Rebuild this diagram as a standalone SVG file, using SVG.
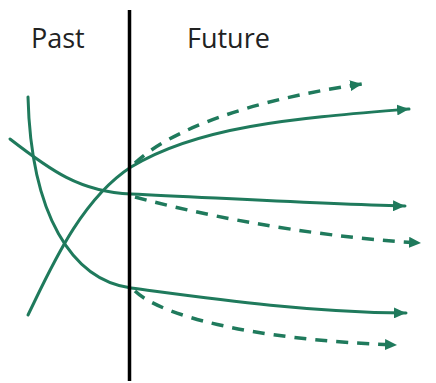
<svg xmlns="http://www.w3.org/2000/svg" width="436" height="383" viewBox="0 0 436 383">
  <style>
    .lbl { font-family: "Open Sans", "Liberation Sans", sans-serif; font-size: 27px; fill: #222; }
    .c { fill: none; stroke: #1f7a5c; stroke-width: 3; stroke-linecap: round; }
    .solid { marker-end: url(#arrow); }
    .dash { stroke-width: 3.5; stroke-dasharray: 12 9; stroke-linecap: butt; marker-end: url(#arrow); }
    .axis { stroke: #000; stroke-width: 3.5; }
  </style>
  <defs>
    <marker id="arrow" markerUnits="userSpaceOnUse" markerWidth="13" markerHeight="11" refX="12" refY="5.5" orient="auto">
      <path d="M0,0 L12,5.5 L0,11 Z" fill="#1f7a5c"/>
    </marker>
  </defs>
  <rect width="436" height="383" fill="#fff"/>
  <g id="label-past"><text class="lbl" x="31" y="48">Past</text></g>
  <g id="label-future"><text class="lbl" x="187" y="48">Future</text></g>
  <g id="connectors">
    <path class="c solid" d="M28,97 C31,215 72,280 131,288 C200,297 300,312 406,313"/>
    <path class="c solid" d="M10,139 C50,170 80,192 131,194 C220,198 320,204 405,206"/>
    <path class="c solid" d="M28,315 C50,270 80,200 131,167 C200,125 300,118 409,109"/>
    <path class="c dash" d="M135,163 C170,130 250,100 362,84"/>
    <path class="c dash" d="M135,197 C190,212 300,236 421,243"/>
    <path class="c dash" d="M135,291 C160,315 250,340 397,345"/>
  </g>
  <g id="divider"><line class="axis" x1="129.5" y1="10" x2="129.5" y2="381"/></g>
</svg>
